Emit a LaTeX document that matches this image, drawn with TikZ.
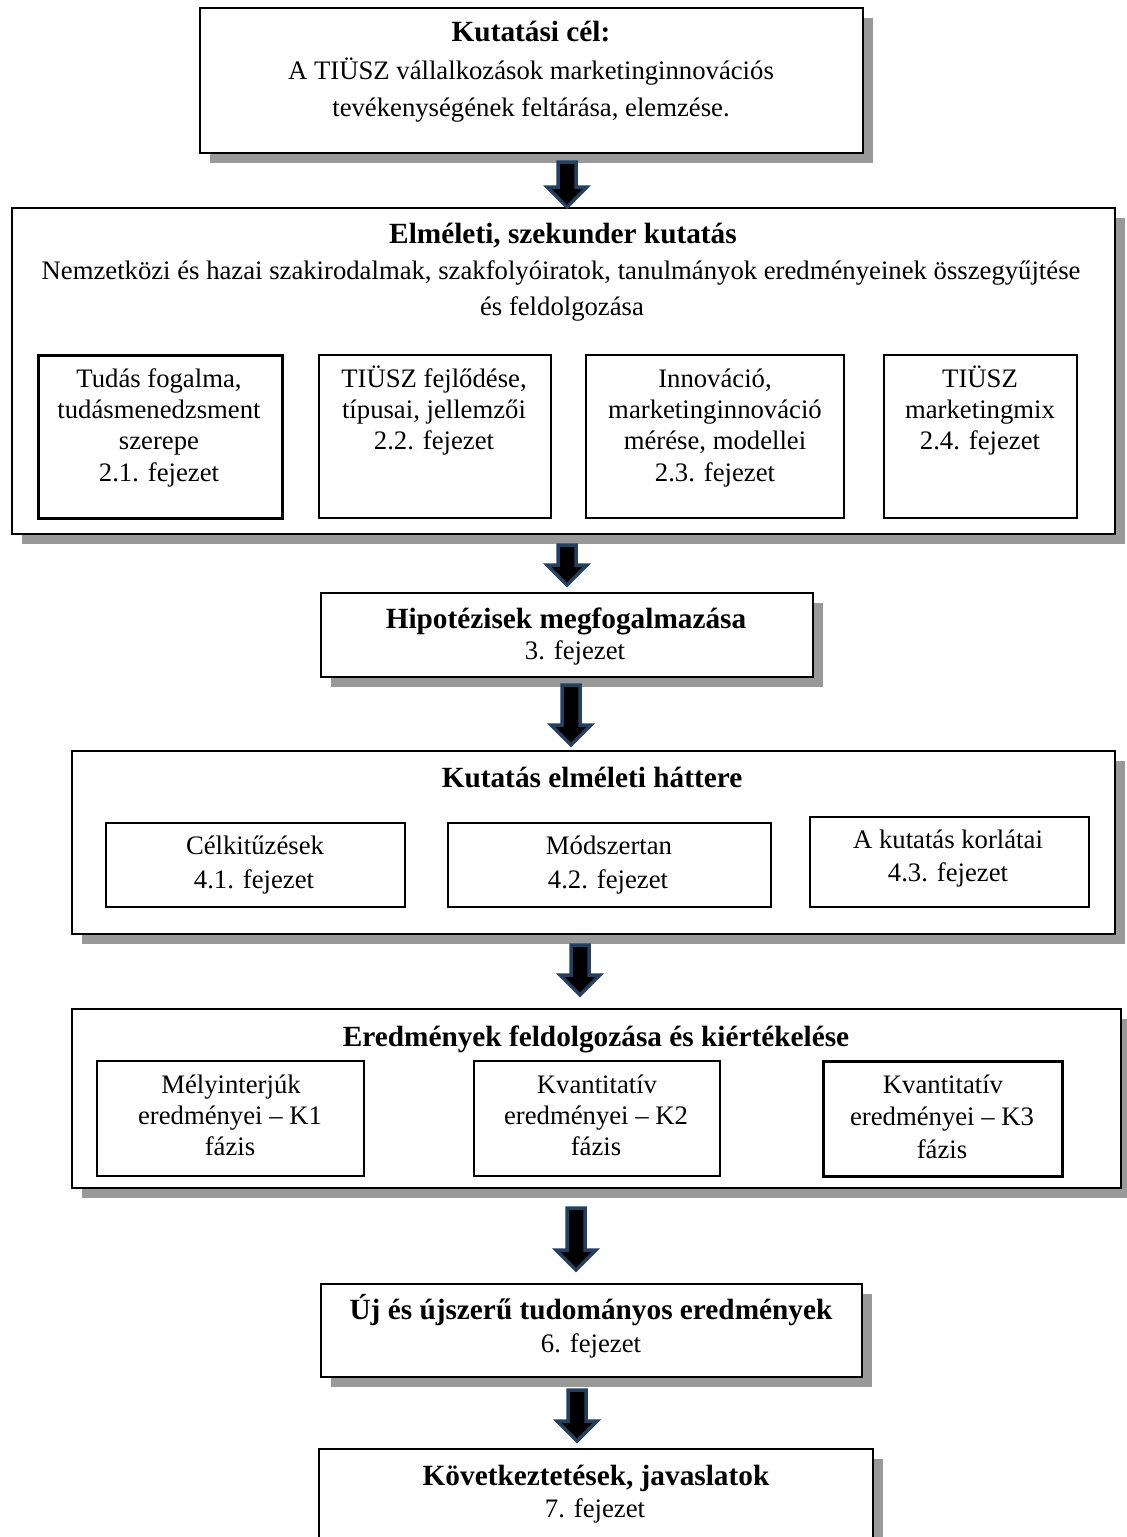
\documentclass[tikz,border=0pt]{standalone}
\usepackage{fontspec}
\setmainfont{Liberation Serif}
\usetikzlibrary{shadows}
\definecolor{shadowgrey}{RGB}{153,153,153}
\definecolor{arrowblue}{RGB}{36,63,96}
\newcommand{\regfont}{\fontsize{26.7}{31}\selectfont}
\newcommand{\headfont}{\fontsize{29.3}{33}\selectfont\bfseries}
% block arrow pointing down: name, x, top, length
\newcommand{\blockarrow}[4]{%
  \coordinate (#1) at (#2,#3);
  \draw[flowarrow] (#1) ++(-9,0) -- ++(18,0) -- ++(0,{#4-20}) -- ++(11,0)
    -- ++(-20,20) -- ++(-20,-20) -- ++(11,0) -- cycle;}
\tikzset{
  frame/.style={draw=black, line width=1.5pt, fill=white, inner sep=0pt, anchor=north west},
  shadowframe/.style={frame, drop shadow={shadow xshift=10pt, shadow yshift=-10pt, fill=shadowgrey, opacity=1}},
  thickframe/.style={frame, line width=2.6pt},
  txt/.style={font=\regfont, inner sep=0pt, anchor=base},
  head/.style={font=\headfont, inner sep=0pt, anchor=base},
  flowarrow/.style={draw=arrowblue, fill=black, line width=3.5pt, line join=miter}
}
\begin{document}
\begin{tikzpicture}[x=1pt,y=-1pt]
\useasboundingbox[fill=white] (0,0) rectangle (1127,1537);

% research goal
\node[shadowframe, minimum width=663pt, minimum height=145pt] (goal) at (199,7) {};
\node[head] (goal1) at (531,41) {Kutatási cél:};
\node[txt] (goal2) at (531,79) {A TIÜSZ vállalkozások marketinginnovációs};
\node[txt] (goal3) at (531,116) {tevékenységének feltárása, elemzése.};

% theoretical, secondary research
\node[shadowframe, minimum width=1103pt, minimum height=326pt] (theory) at (11,207) {};
\node[head] (theory1) at (563,243) {Elméleti, szekunder kutatás};
\node[txt] (theory2) at (561,279) {Nemzetközi és hazai szakirodalmak, szakfolyóiratok, tanulmányok eredményeinek összegyűjtése};
\node[txt] (theory3) at (562,315) {és feldolgozása};

\node[thickframe, minimum width=244pt, minimum height=163pt] (ch21) at (37,354) {};
\node[txt] (ch21a) at (159,387) {Tudás fogalma,};
\node[txt] (ch21b) at (159,418) {tudásmenedzsment};
\node[txt] (ch21c) at (159,449) {szerepe};
\node[txt] (ch21d) at (159,481) {2.1. fejezet};

\node[frame, minimum width=232pt, minimum height=163pt] (ch22) at (318,354) {};
\node[txt] (ch22a) at (434,387) {TIÜSZ fejlődése,};
\node[txt] (ch22b) at (434,418) {típusai, jellemzői};
\node[txt] (ch22c) at (434,449) {2.2. fejezet};

\node[frame, minimum width=258pt, minimum height=163pt] (ch23) at (585,354) {};
\node[txt] (ch23a) at (715,387) {Innováció,};
\node[txt] (ch23b) at (715,418) {marketinginnováció};
\node[txt] (ch23c) at (715,449) {mérése, modellei};
\node[txt] (ch23d) at (715,481) {2.3. fejezet};

\node[frame, minimum width=193pt, minimum height=163pt] (ch24) at (883,354) {};
\node[txt] (ch24a) at (980,387) {TIÜSZ};
\node[txt] (ch24b) at (980,418) {marketingmix};
\node[txt] (ch24c) at (980,449) {2.4. fejezet};

% hypotheses
\node[shadowframe, minimum width=492pt, minimum height=84pt] (hyp) at (320,592) {};
\node[head] (hyp1) at (566,628) {Hipotézisek megfogalmazása};
\node[txt] (hyp2) at (575,659) {3. fejezet};

% theoretical background
\node[shadowframe, minimum width=1043pt, minimum height=183pt] (back) at (71,750) {};
\node[head] (back1) at (592,787) {Kutatás elméleti háttere};
\node[frame, minimum width=299pt, minimum height=84pt] (ch41) at (105,822) {};
\node[txt] (ch41a) at (255,854) {Célkitűzések};
\node[txt] (ch41b) at (254,888) {4.1. fejezet};
\node[frame, minimum width=323pt, minimum height=84pt] (ch42) at (447,822) {};
\node[txt] (ch42a) at (609,854) {Módszertan};
\node[txt] (ch42b) at (608,888) {4.2. fejezet};
\node[frame, minimum width=279pt, minimum height=90pt] (ch43) at (809,816) {};
\node[txt] (ch43a) at (948,848) {A kutatás korlátai};
\node[txt] (ch43b) at (948,881) {4.3. fejezet};

% processing and evaluation of results
\node[shadowframe, minimum width=1049pt, minimum height=179pt] (res) at (71,1008) {};
\node[head] (res1) at (596,1046) {Eredmények feldolgozása és kiértékelése};
\node[frame, minimum width=267pt, minimum height=115pt] (k1) at (96,1060) {};
\node[txt] (k1a) at (231,1093) {Mélyinterjúk};
\node[txt] (k1b) at (230,1124) {eredményei – K1};
\node[txt] (k1c) at (230,1155) {fázis};
\node[frame, minimum width=246pt, minimum height=115pt] (k2) at (473,1060) {};
\node[txt] (k2a) at (597,1093) {Kvantitatív};
\node[txt] (k2b) at (596,1124) {eredményei – K2};
\node[txt] (k2c) at (596,1155) {fázis};
\node[thickframe, minimum width=239pt, minimum height=115pt] (k3) at (822,1060) {};
\node[txt] (k3a) at (943,1093) {Kvantitatív};
\node[txt] (k3b) at (942,1125) {eredményei – K3};
\node[txt] (k3c) at (942,1158) {fázis};

% new scientific results
\node[shadowframe, minimum width=541pt, minimum height=93pt] (new) at (320,1283) {};
\node[head] (new1) at (591,1319) {Új és újszerű tudományos eredmények};
\node[txt] (new2) at (591,1352) {6. fejezet};

% conclusions
\node[shadowframe, minimum width=554pt, minimum height=130pt] (conc) at (318,1448) {};
\node[head] (conc1) at (596,1485) {Következtetések, javaslatok};
\node[txt] (conc2) at (595,1517) {7. fejezet};

% arrows between the stages
\blockarrow{arr1}{567}{162}{45}
\blockarrow{arr2}{567}{545}{40}
\blockarrow{arr3}{571}{685}{60}
\blockarrow{arr4}{580}{945}{50}
\blockarrow{arr5}{576}{1208}{62}
\blockarrow{arr6}{577}{1390}{51}
\end{tikzpicture}
\end{document}
